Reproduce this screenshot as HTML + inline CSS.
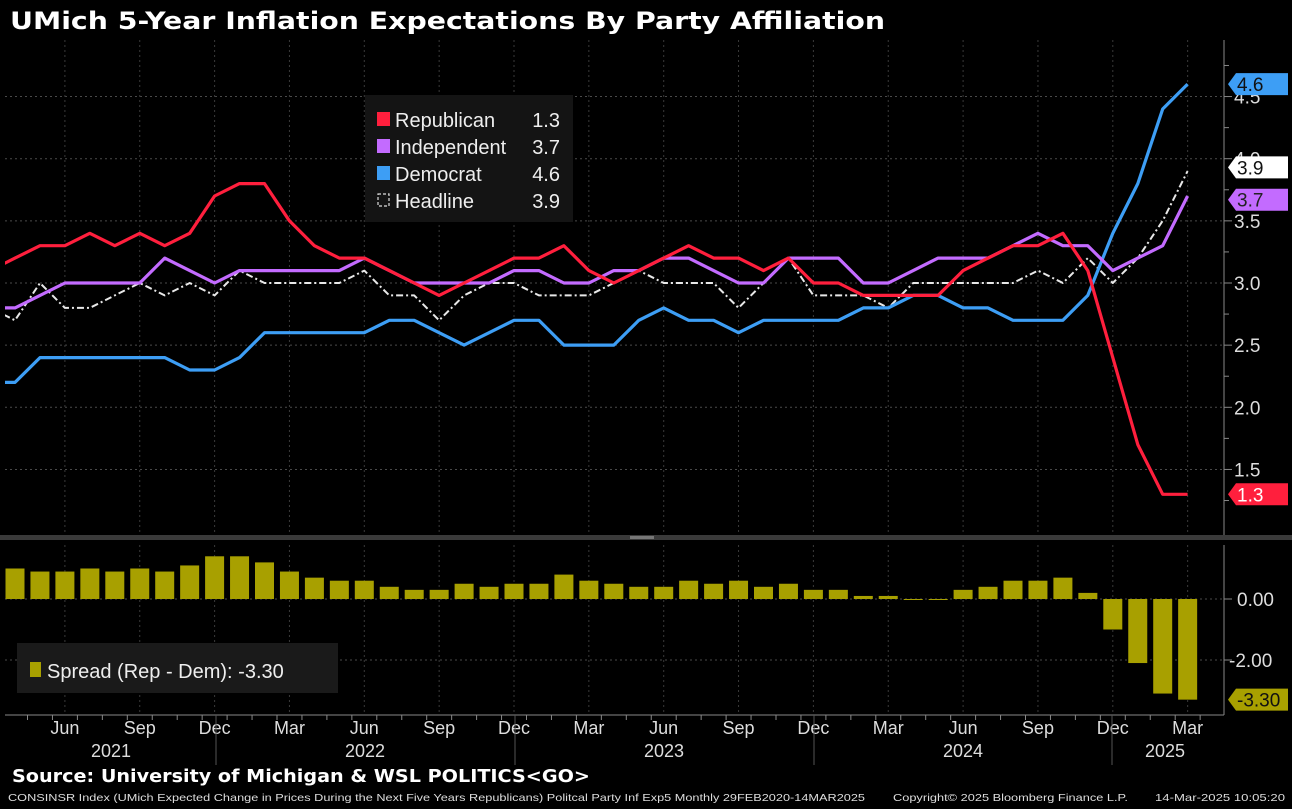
<!DOCTYPE html>
<html><head><meta charset="utf-8"><style>
body{margin:0;background:#000;width:1292px;height:809px;overflow:hidden;font-family:"Liberation Sans",sans-serif}
svg{display:block}
</style></head><body>
<svg id="c" width="1292" height="809" xmlns="http://www.w3.org/2000/svg">
<rect width="1292" height="809" fill="#000"/>
<text x="10" y="29" fill="#fff" font-family="DejaVu Sans, sans-serif" font-weight="bold" font-size="24" textLength="875" lengthAdjust="spacingAndGlyphs">UMich 5-Year Inflation Expectations By Party Affiliation</text>
<g id="grid"></g>
<g id="lines"></g>
<g id="bars"></g>
<g id="axes"></g>
<g>
<rect x="365" y="95" width="208" height="127" fill="#141414"/>
<rect x="377" y="112" width="13" height="14" fill="#ff1f3d"/>
<text x="395" y="127" fill="#eee" font-size="20">Republican</text><text x="560" y="127" fill="#eee" font-size="20" text-anchor="end">1.3</text>
<rect x="377" y="139" width="13" height="14" fill="#c36bff"/>
<text x="395" y="154" fill="#eee" font-size="20">Independent</text><text x="560" y="154" fill="#eee" font-size="20" text-anchor="end">3.7</text>
<rect x="377" y="166" width="13" height="14" fill="#3d9ef5"/>
<text x="395" y="181" fill="#eee" font-size="20">Democrat</text><text x="560" y="181" fill="#eee" font-size="20" text-anchor="end">4.6</text>
<rect x="378" y="194" width="11" height="12" fill="none" stroke="#ddd" stroke-width="1.2" stroke-dasharray="3,2"/>
<text x="395" y="208" fill="#eee" font-size="20">Headline</text><text x="560" y="208" fill="#eee" font-size="20" text-anchor="end">3.9</text>
</g>
<g>
<rect x="17" y="643" width="321" height="50" fill="#1a1a1a"/>
<rect x="30" y="662" width="11" height="15" fill="#a8a000"/>
<text x="47" y="678" fill="#eee" font-size="20">Spread (Rep - Dem): -3.30</text>
</g>
<text x="12" y="782" fill="#fff" font-family="DejaVu Sans, sans-serif" font-weight="bold" font-size="18" textLength="578" lengthAdjust="spacingAndGlyphs">Source: University of Michigan &amp; WSL POLITICS&lt;GO&gt;</text>
<text x="8" y="801" fill="#ddd" font-size="10.5" textLength="857" lengthAdjust="spacingAndGlyphs">CONSINSR Index (UMich Expected Change in Prices During the Next Five Years Republicans) Politcal Party Inf Exp5  Monthly 29FEB2020-14MAR2025</text>
<text x="893" y="801" fill="#ddd" font-size="10.5" textLength="235" lengthAdjust="spacingAndGlyphs">Copyright© 2025 Bloomberg Finance L.P.</text>
<text x="1155" y="801" fill="#ddd" font-size="10.5" textLength="130" lengthAdjust="spacingAndGlyphs">14-Mar-2025 10:05:20</text>
</svg>
<script>
// Monthly data Mar 2021 .. Mar 2025 (index -1 .. 47)
const republican=[3.1,3.2,3.3,3.3,3.4,3.3,3.4,3.3,3.4,3.7,3.8,3.8,3.5,3.3,3.2,3.2,3.1,3.0,2.9,3.0,3.1,3.2,3.2,3.3,3.1,3.0,3.1,3.2,3.3,3.2,3.2,3.1,3.2,3.0,3.0,2.9,2.9,2.9,2.9,3.1,3.2,3.3,3.3,3.4,3.1,2.4,1.7,1.3,1.3];
const independent=[2.8,2.8,2.9,3.0,3.0,3.0,3.0,3.2,3.1,3.0,3.1,3.1,3.1,3.1,3.1,3.2,3.1,3.0,3.0,3.0,3.0,3.1,3.1,3.0,3.0,3.1,3.1,3.2,3.2,3.1,3.0,3.0,3.2,3.2,3.2,3.0,3.0,3.1,3.2,3.2,3.2,3.3,3.4,3.3,3.3,3.1,3.2,3.3,3.7];
const democrat=[2.2,2.2,2.4,2.4,2.4,2.4,2.4,2.4,2.3,2.3,2.4,2.6,2.6,2.6,2.6,2.6,2.7,2.7,2.6,2.5,2.6,2.7,2.7,2.5,2.5,2.5,2.7,2.8,2.7,2.7,2.6,2.7,2.7,2.7,2.7,2.8,2.8,2.9,2.9,2.8,2.8,2.7,2.7,2.7,2.9,3.4,3.8,4.4,4.6];
const headline=[2.8,2.7,3.0,2.8,2.8,2.9,3.0,2.9,3.0,2.9,3.1,3.0,3.0,3.0,3.0,3.1,2.9,2.9,2.7,2.9,3.0,3.0,2.9,2.9,2.9,3.0,3.1,3.0,3.0,3.0,2.8,3.0,3.2,2.9,2.9,2.9,2.8,3.0,3.0,3.0,3.0,3.0,3.1,3.0,3.2,3.0,3.2,3.5,3.9];
// Spread bars Apr 2021 .. Mar 2025 (index 0..47)
const spread=[1.0,0.9,0.9,1.0,0.9,1.0,0.9,1.1,1.4,1.4,1.2,0.9,0.7,0.6,0.6,0.4,0.3,0.3,0.5,0.4,0.5,0.5,0.8,0.6,0.5,0.4,0.4,0.6,0.5,0.6,0.4,0.5,0.3,0.3,0.1,0.1,-0.02,-0.02,0.3,0.4,0.6,0.6,0.7,0.2,-1.0,-2.1,-3.1,-3.3];
const yTicks=[1.5,2.0,2.5,3.0,3.5,4.0,4.5];
const spreadTicks=[0,-2];
const monthLabels=["Jun","Sep","Dec","Mar","Jun","Sep","Dec","Mar","Jun","Sep","Dec","Mar","Jun","Sep","Dec","Mar"];
const yearLabels=["2021","2022","2023","2024","2025"];

const NS="http://www.w3.org/2000/svg";
function mk(tag,attrs,parent){const e=document.createElementNS(NS,tag);for(const k in attrs)e.setAttribute(k,attrs[k]);parent.appendChild(e);return e;}
const X=i=>15+i*24.95;          // i = month index, 0 = Apr 2021
const Y=v=>283-(v-3)*124.3;     // top panel
const YS=v=>599-v*30.5;         // spread panel
const grid=document.getElementById('grid'),lines=document.getElementById('lines'),bars=document.getElementById('bars'),axes=document.getElementById('axes');

// clip
const defs=mk('defs',{},document.getElementById('c'));
const cp=mk('clipPath',{id:'clipTop'},defs);mk('rect',{x:5,y:40,width:1219,height:495},cp);

// grids
yTicks.forEach(t=>{const l=mk('line',{x1:5,x2:1224,y1:Y(t),y2:Y(t),stroke:'#4a4a4a','stroke-dasharray':'2,3'},grid);
});
monthLabels.forEach((m,k)=>{const x=X(2+3*k);const l=mk('line',{x1:x,x2:x,y1:40,y2:535,stroke:'#3a3a3a','stroke-dasharray':'2,3'},grid);

const l2=mk('line',{x1:x,x2:x,y1:545,y2:712,stroke:'#3a3a3a','stroke-dasharray':'2,3'},grid);
});
spreadTicks.forEach(t=>{const l=mk('line',{x1:5,x2:1224,y1:YS(t),y2:YS(t),stroke:'#4a4a4a','stroke-dasharray':'2,3'},grid);
});

// series
function series(arr,color,name,dash){const pts=arr.map((v,j)=>X(j-1).toFixed(1)+','+Y(v).toFixed(1)).join(' ');
const p=mk('polyline',{points:pts,fill:'none',stroke:color,'stroke-width':dash?2:3.2,'stroke-linejoin':'round','clip-path':'url(#clipTop)'},lines);
if(dash)p.setAttribute('stroke-dasharray',dash);
}
series(headline,'#e8e8e8','headline-line','7,3,2,3');
series(democrat,'#3d9ef5','democrat-line');
series(independent,'#c36bff','independent-line');
series(republican,'#ff1f3d','republican-line');

// bars
spread.forEach((v,i)=>{const y0=YS(0),y1=YS(v);const r=mk('rect',{x:X(i)-9.5,y:Math.min(y0,y1),width:19,height:Math.max(1,Math.abs(y1-y0)),fill:'#a8a000'},bars);
});

// axes
mk('line',{x1:1224,x2:1224,y1:40,y2:535,stroke:'#888'},axes);
mk('rect',{x:0,y:535,width:1292,height:5,fill:'#3a3a3a'},axes);
mk('rect',{x:630,y:536,width:24,height:3,fill:'#777'},axes);
mk('line',{x1:1224,x2:1224,y1:545,y2:715,stroke:'#888'},axes);
mk('line',{x1:5,x2:1224,y1:715,y2:715,stroke:'#888'},axes);
for(let v=1.25;v<=4.75;v+=0.25){mk('line',{x1:1224,x2:v%0.5===0?1232:1229,y1:Y(v),y2:Y(v),stroke:'#888'},axes);}
yTicks.forEach(t=>{const e=mk('text',{x:1234,y:Y(t)+7,fill:'#ddd','font-size':19},axes);e.textContent=t.toFixed(1);
});
spreadTicks.forEach(t=>{mk('line',{x1:1224,x2:1232,y1:YS(t),y2:YS(t),stroke:'#888'},axes);
const e=mk('text',{x:t<0?1229:1237,y:YS(t)+7,fill:'#ddd','font-size':19},axes);e.textContent=t.toFixed(2);
});
for(let i=0;i<48;i++){mk('line',{x1:X(i)+12.5,x2:X(i)+12.5,y1:715,y2:720,stroke:'#888'},axes);}
monthLabels.forEach((m,k)=>{const e=mk('text',{x:X(2+3*k),y:734,fill:'#ddd','font-size':18,'text-anchor':'middle'},axes);e.textContent=m;
});
[216,515,814,1112].forEach(x=>mk('line',{x1:x,x2:x,y1:715,y2:765,stroke:'#555'},axes));
const yearX=[111,365,664,963,1165];
yearLabels.forEach((y,k)=>{const e=mk('text',{x:yearX[k],y:757,fill:'#ddd','font-size':18,'text-anchor':'middle'},axes);e.textContent=y;
});

// last-value tags
function tag(v,yf,bg,fg,label,name){const y=yf(v);
const p=mk('polygon',{points:`1228,${y} 1236,${y-11} 1288,${y-11} 1288,${y+11} 1236,${y+11}`,fill:bg},axes);

const t=mk('text',{x:1237,y:y+7,fill:fg,'font-size':19},axes);t.textContent=label;}
tag(democrat[democrat.length-1],Y,'#3d9ef5','#111','4.6','democrat-last-tag');
tag(headline[headline.length-1]+0.03,Y,'#ffffff','#111','3.9','headline-last-tag');
tag(independent[independent.length-1]-0.03,Y,'#c36bff','#222','3.7','independent-last-tag');
tag(republican[republican.length-1],Y,'#ff1f3d','#fff','1.3','republican-last-tag');
tag(spread[spread.length-1],YS,'#a8a000','#111','-3.30','spread-last-tag');
</script>
</body></html>
